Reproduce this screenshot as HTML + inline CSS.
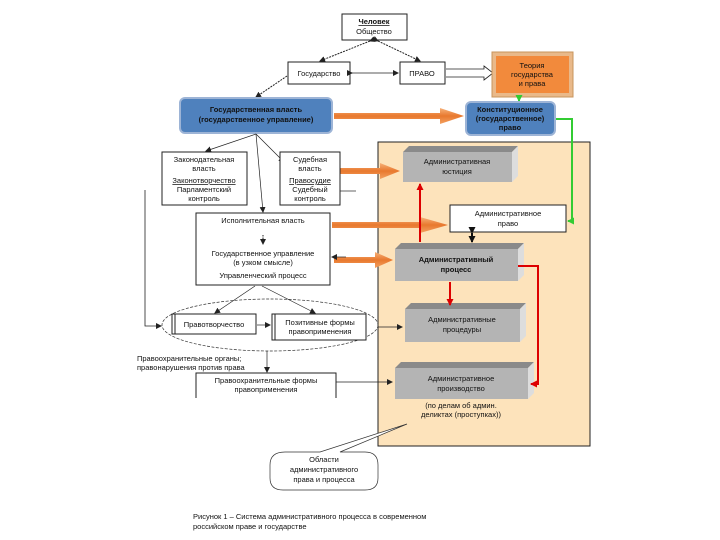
<!DOCTYPE html>
<html><head><meta charset="utf-8"><style>
html,body{margin:0;padding:0;background:#fff}
svg{display:block}
text{font-family:"Liberation Sans",sans-serif;font-size:7.5px;fill:#111;text-anchor:middle}
</style></head><body>
<svg width="720" height="540" viewBox="0 0 720 540" xmlns="http://www.w3.org/2000/svg">
<defs>
<marker id="a" markerUnits="userSpaceOnUse" markerWidth="6" markerHeight="6" refX="5" refY="3" orient="auto"><path d="M0,0 L6,3 L0,6 z" fill="#222"/></marker>
<marker id="ab" markerUnits="userSpaceOnUse" markerWidth="7" markerHeight="7" refX="6" refY="3.5" orient="auto"><path d="M0,0 L7,3.5 L0,7 z" fill="#111"/></marker>
<marker id="ar" markerUnits="userSpaceOnUse" markerWidth="7" markerHeight="7" refX="6" refY="3.5" orient="auto"><path d="M0,0 L7,3.5 L0,7 z" fill="#d00"/></marker>
<marker id="ag" markerUnits="userSpaceOnUse" markerWidth="7" markerHeight="7" refX="6" refY="3.5" orient="auto"><path d="M0,0 L7,3.5 L0,7 z" fill="#3c3"/></marker>
<linearGradient id="or" x1="0" y1="0" x2="0" y2="1"><stop offset="0" stop-color="#f7b27a"/><stop offset="0.5" stop-color="#e8782e"/><stop offset="1" stop-color="#f3a060"/></linearGradient>
</defs>

<rect x="378" y="142" width="212" height="304" fill="#fde3bb" stroke="#222" stroke-width="1"/>

<rect x="342" y="14" width="65" height="26" fill="#fff" stroke="#222"/>
<text x="374" y="24" style="font-weight:bold;text-decoration:underline">Человек</text>
<text x="374" y="34">Общество</text>

<rect x="288" y="62" width="62" height="22" fill="#fff" stroke="#222"/>
<text x="319" y="76">Государство</text>
<rect x="400" y="62" width="45" height="22" fill="#fff" stroke="#222"/>
<text x="422" y="76">ПРАВО</text>

<line x1="370" y1="41" x2="320" y2="61" stroke="#222" stroke-dasharray="2,1" marker-end="url(#a)" marker-start="url(#a)"/>
<line x1="378" y1="41" x2="420" y2="61" stroke="#222" stroke-dasharray="2,1" marker-end="url(#a)" marker-start="url(#a)"/>
<line x1="352" y1="73" x2="398" y2="73" stroke="#222" stroke-width="0.7" marker-end="url(#a)" marker-start="url(#a)"/>
<line x1="287" y1="76" x2="256" y2="97" stroke="#222" stroke-dasharray="2,1" marker-end="url(#a)"/>
<path d="M446,69 L484,69 L484,66 L493,73 L484,80 L484,77 L446,77" fill="#fff" stroke="#222" stroke-width="0.8"/>

<rect x="492" y="52" width="81" height="45" fill="#e9b98a" stroke="#c8955c"/>
<rect x="496" y="56" width="73" height="37" fill="#f28a3c"/>
<text x="532" y="68">Теория</text>
<text x="532" y="77">государства</text>
<text x="532" y="86">и права</text>
<line x1="519" y1="96" x2="519" y2="101" stroke="#3c3" stroke-width="2" marker-end="url(#ag)"/>

<rect x="180" y="98" width="152" height="35" rx="5" fill="#4f81bd" stroke="#9db4d6" stroke-width="2"/>
<text x="256" y="112" style="font-weight:bold">Государственная власть</text>
<text x="256" y="122" style="font-weight:bold">(государственное управление)</text>
<rect x="466" y="102" width="89" height="33" rx="5" fill="#4f81bd" stroke="#9db4d6" stroke-width="2"/>
<text x="510" y="112" style="font-weight:bold">Конституционное</text>
<text x="510" y="121" style="font-weight:bold">(государственное)</text>
<text x="510" y="130" style="font-weight:bold">право</text>

<path d="M334,113 L440,113 L440,108 L464,116 L440,124 L440,119 L334,119 z" fill="url(#or)"/>
<path d="M340,168 L380,168 L380,163 L400,171 L380,179 L380,174 L340,174 z" fill="url(#or)"/>
<path d="M332,222 L420,222 L420,217 L448,225 L420,233 L420,228 L332,228 z" fill="url(#or)"/>
<path d="M334,257 L375,257 L375,252 L393,260 L375,268 L375,263 L334,263 z" fill="url(#or)"/>

<polyline points="556,119 572,119 572,221 568,221" fill="none" stroke="#3c3" stroke-width="2" marker-end="url(#ag)"/>

<line x1="256" y1="134" x2="206" y2="151" stroke="#222" stroke-width="0.7" marker-end="url(#a)"/>
<line x1="256" y1="134" x2="284" y2="162" stroke="#222" stroke-width="0.7" marker-end="url(#a)"/>
<line x1="256" y1="134" x2="263" y2="212" stroke="#222" stroke-width="0.7" marker-end="url(#a)"/>
<rect x="162" y="152" width="85" height="53" fill="#fff" stroke="#222"/>
<text x="204" y="162">Законодательная</text>
<text x="204" y="171">власть</text>
<text x="204" y="183" style="text-decoration:underline">Законотворчество</text>
<text x="204" y="192">Парламентский</text>
<text x="204" y="201">контроль</text>
<rect x="280" y="152" width="60" height="53" fill="#fff" stroke="#222"/>
<text x="310" y="162">Судебная</text>
<text x="310" y="171">власть</text>
<text x="310" y="183" style="text-decoration:underline">Правосудие</text>
<text x="310" y="192">Судебный</text>
<text x="310" y="201">контроль</text>
<line x1="340" y1="191" x2="356" y2="191" stroke="#222" stroke-width="0.7"/>

<rect x="196" y="213" width="134" height="72" fill="#fff" stroke="#222"/>
<text x="263" y="223">Исполнительная власть</text>
<line x1="263" y1="235" x2="263" y2="244" stroke="#222" stroke-dasharray="1.5,1" marker-end="url(#a)"/>
<text x="263" y="256">Государственное управление</text>
<text x="263" y="265">(в узком смысле)</text>
<text x="263" y="278">Управленческий процесс</text>
<line x1="346" y1="257" x2="332" y2="257" stroke="#222" stroke-width="0.7" marker-end="url(#a)"/>

<polyline points="145,190 145,326 161,326" fill="none" stroke="#222" stroke-width="0.8" marker-end="url(#a)"/>

<ellipse cx="270" cy="325" rx="108" ry="26" fill="none" stroke="#333" stroke-width="0.7" stroke-dasharray="3,1.5"/>
<line x1="255" y1="286" x2="215" y2="313" stroke="#222" stroke-width="0.7" marker-end="url(#a)"/>
<line x1="262" y1="286" x2="315" y2="313" stroke="#222" stroke-width="0.7" marker-end="url(#a)"/>
<rect x="172" y="314" width="84" height="20" fill="#fff" stroke="#222"/>
<rect x="172" y="314" width="3" height="20" fill="#fff" stroke="#222"/>
<text x="214" y="327">Правотворчество</text>
<line x1="257" y1="325" x2="270" y2="325" stroke="#222" stroke-width="0.7" marker-end="url(#a)"/>
<rect x="272" y="314" width="94" height="26" fill="#fff" stroke="#222"/>
<rect x="272" y="314" width="3" height="26" fill="#fff" stroke="#222"/>
<text x="320" y="325">Позитивные формы</text>
<text x="320" y="334">правоприменения</text>
<line x1="378" y1="327" x2="402" y2="327" stroke="#222" stroke-width="0.7" marker-end="url(#a)"/>

<text x="137" y="361" style="text-anchor:start">Правоохранительные органы;</text>
<text x="137" y="370" style="text-anchor:start">правонарушения против права</text>
<line x1="267" y1="351" x2="267" y2="372" stroke="#222" stroke-width="0.7" marker-end="url(#a)"/>
<polyline points="196,398 196,373 336,373 336,398" fill="#fff" stroke="#222"/>
<text x="266" y="383">Правоохранительные формы</text>
<text x="266" y="392">правоприменения</text>
<line x1="336" y1="382" x2="392" y2="382" stroke="#222" stroke-width="0.7" marker-end="url(#a)"/>

<g>
<polygon points="403,152 409,146 518,146 512,152" fill="#8a8a8a"/>
<polygon points="512,152 518,146 518,176 512,182" fill="#ddd"/>
<rect x="403" y="152" width="109" height="30" fill="#b4b4b4"/>
<text x="457" y="164">Административная</text>
<text x="457" y="174">юстиция</text>
</g>
<rect x="450" y="205" width="116" height="27" fill="#fff" stroke="#222"/>
<text x="508" y="216">Административное</text>
<text x="508" y="226">право</text>
<line x1="472" y1="233" x2="472" y2="242" stroke="#111" stroke-width="2" marker-end="url(#ab)" marker-start="url(#ab)"/>
<g>
<polygon points="395,249 401,243 524,243 518,249" fill="#8a8a8a"/>
<polygon points="518,249 524,243 524,275 518,281" fill="#ddd"/>
<rect x="395" y="249" width="123" height="32" fill="#b4b4b4"/>
<text x="456" y="262" style="font-weight:bold">Административный</text>
<text x="456" y="272" style="font-weight:bold">процесс</text>
</g>
<g>
<polygon points="405,309 411,303 526,303 520,309" fill="#8a8a8a"/>
<polygon points="520,309 526,303 526,336 520,342" fill="#ddd"/>
<rect x="405" y="309" width="115" height="33" fill="#b4b4b4"/>
<text x="462" y="322">Административные</text>
<text x="462" y="332">процедуры</text>
</g>
<g>
<polygon points="395,368 401,362 534,362 528,368" fill="#8a8a8a"/>
<polygon points="528,368 534,362 534,393 528,399" fill="#ddd"/>
<rect x="395" y="368" width="133" height="31" fill="#b4b4b4"/>
<text x="461" y="381">Административное</text>
<text x="461" y="391">производство</text>
</g>
<text x="461" y="408">(по делам об админ.</text>
<text x="461" y="417">деликтах (проступках))</text>

<line x1="420" y1="242" x2="420" y2="184" stroke="#d00" stroke-width="2" marker-end="url(#ar)"/>
<line x1="450" y1="282" x2="450" y2="305" stroke="#d00" stroke-width="2" marker-end="url(#ar)"/>
<polyline points="518,266 538,266 538,384 531,384" fill="none" stroke="#d00" stroke-width="2" marker-end="url(#ar)"/>

<path d="M285,452 L320,452 L407,424 L340,452 L365,452 Q378,452 378,465 L378,478 Q378,490 365,490 L283,490 Q270,490 270,478 L270,465 Q270,452 285,452 z" fill="#fff" stroke="#333" stroke-width="0.7"/>
<text x="324" y="462">Области</text>
<text x="324" y="472">административного</text>
<text x="324" y="482">права и процесса</text>

<text x="193" y="519" style="text-anchor:start">Рисунок 1 – Система административного процесса в современном</text>
<text x="193" y="529" style="text-anchor:start">российском праве и государстве</text>
</svg>
</body></html>
